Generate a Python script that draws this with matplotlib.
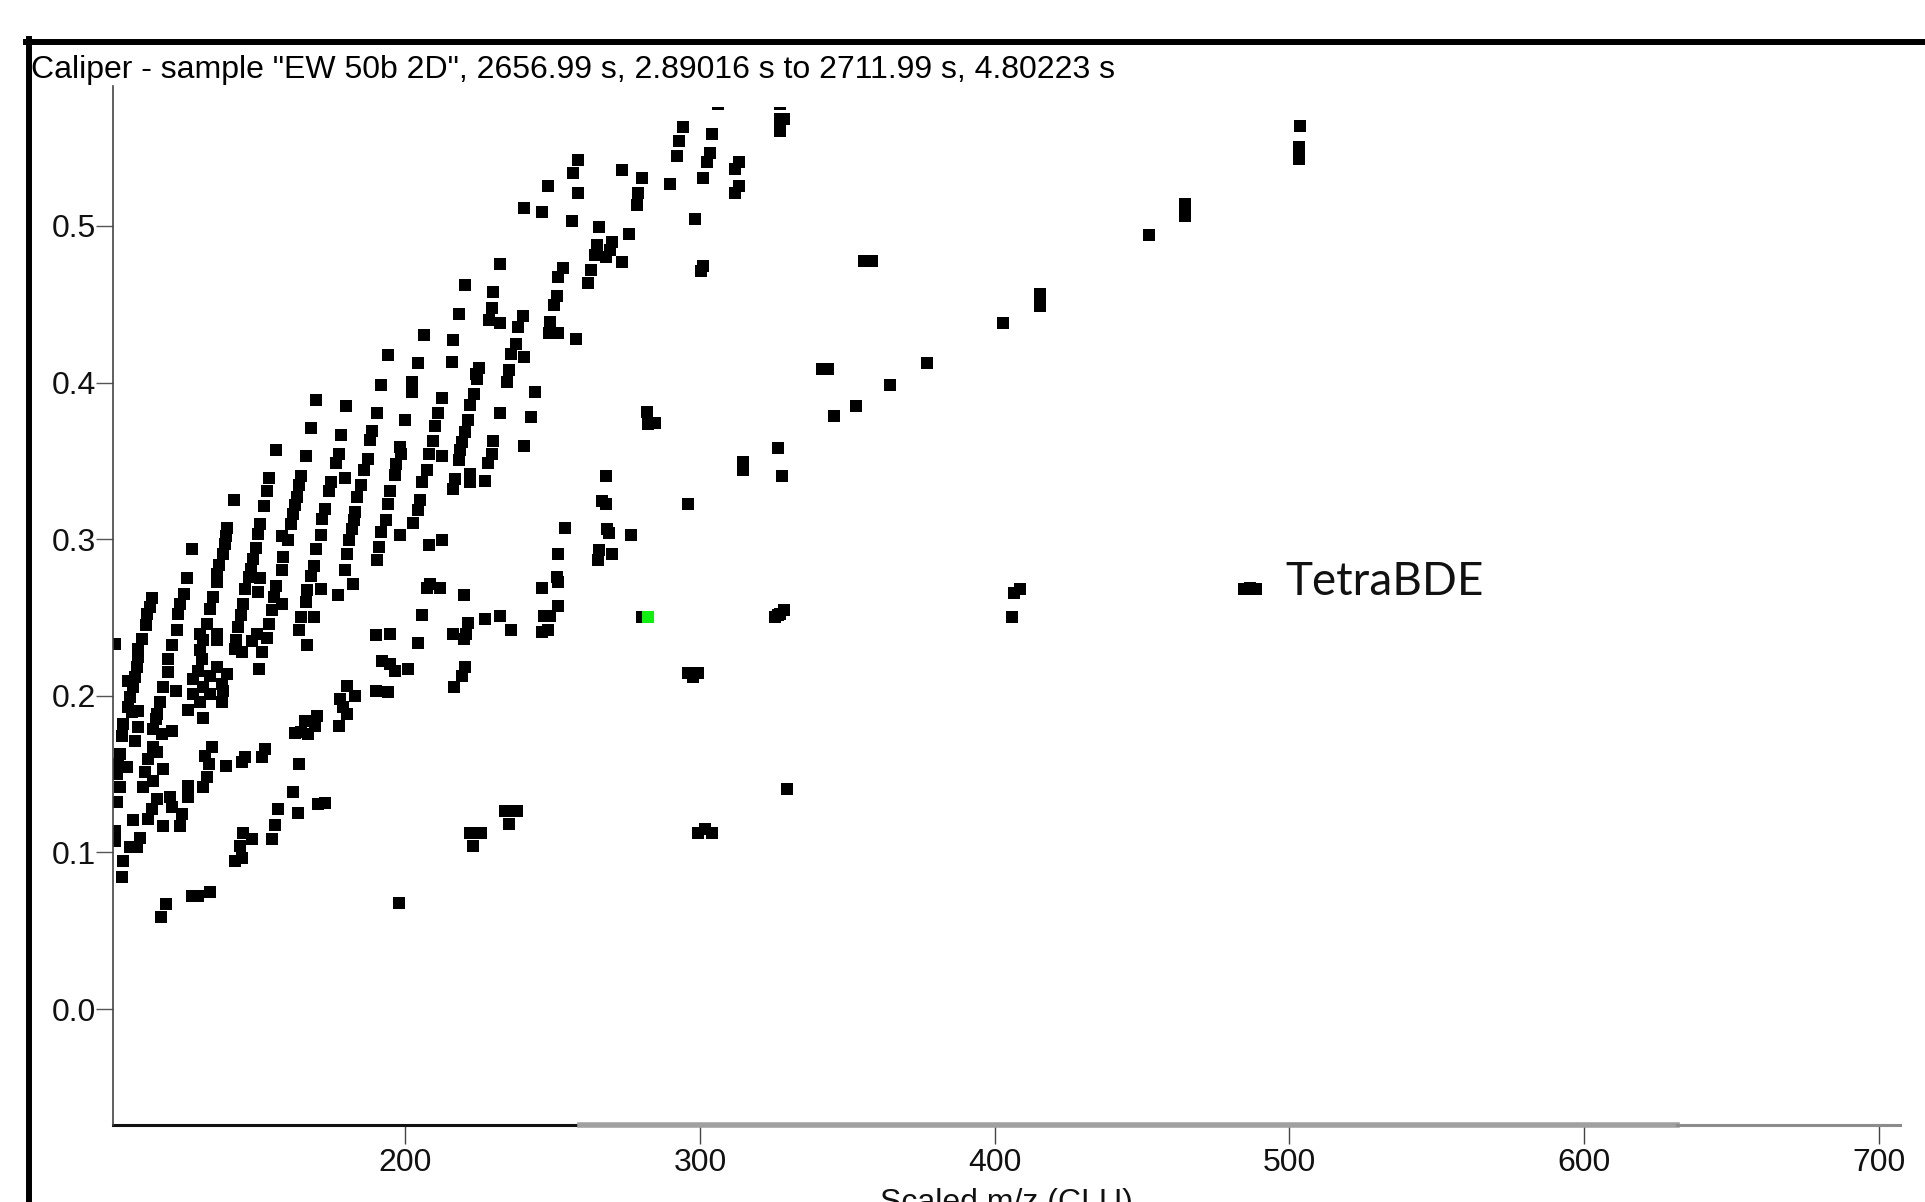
import matplotlib
matplotlib.use("Agg")
import matplotlib.pyplot as plt
from matplotlib import font_manager
from matplotlib.patches import Rectangle
from matplotlib.lines import Line2D
import matplotlib.transforms as mtransforms

# peak apex positions: scaled m/z (CLU) vs second dimension time (s)
upper_mz = [206.5, 194.1, 204.5,
            327.2, 328.5, 327.2, 327.2, 306.3, 294.4, 304.0, 293.0, 303.4, 302.3, 292.1,
            258.8, 257.1, 273.7, 280.5, 289.9, 300.9, 313.4, 311.9, 313.4, 311.9,
            248.6, 258.7, 278.9, 278.6, 240.3, 246.3, 256.7, 298.2, 265.9, 276.1,
            270.3, 265.0, 269.5, 264.4, 268.0, 273.7, 300.9, 300.3, 232.2, 253.7,
            252.0, 263.1, 261.9, 220.4, 229.9, 251.6, 250.5, 229.4, 218.4, 239.9,
            238.2, 228.6, 232.2, 249.1, 248.8, 252.0, 258.0, 216.4, 237.5, 235.9,
            240.3, 215.8, 225.1, 223.9, 235.2]
upper_t2 = [0.4304, 0.4176, 0.4123,
            0.5683, 0.5683, 0.5608, 0.5780, 0.5780, 0.5630, 0.5585, 0.5542, 0.5464, 0.5406, 0.5449,
            0.5421, 0.5336, 0.5355, 0.5308, 0.5266, 0.5308, 0.5410, 0.5361, 0.5257, 0.5208,
            0.5255, 0.5210, 0.5210, 0.5134, 0.5117, 0.5087, 0.5034, 0.5044, 0.4993, 0.4947,
            0.4896, 0.4878, 0.4847, 0.4815, 0.4800, 0.4770, 0.4747, 0.4713, 0.4757, 0.4730,
            0.4676, 0.4717, 0.4634, 0.4621, 0.4576, 0.4553, 0.4495, 0.4479, 0.4440, 0.4425,
            0.4357, 0.4400, 0.4383, 0.4389, 0.4315, 0.4315, 0.4276, 0.4272, 0.4247, 0.4181,
            0.4161, 0.4134, 0.4095, 0.4055, 0.4081]

mid_mz = [191.7, 202.2, 202.2, 169.8, 180.0, 212.4, 190.4, 211.3, 200.0, 168.1,
          178.2, 210.1, 188.9, 188.1, 209.6, 156.1, 166.4, 177.4, 176.5, 198.3,
          198.5, 196.9, 196.4, 208.2, 212.4, 187.3, 186.1, 207.3, 153.8, 164.6,
          164.0, 174.9, 174.2, 179.6, 185.0, 205.6, 153.0, 163.2, 162.8, 183.6,
          194.9, 142.0, 152.1, 161.9, 161.3, 172.8, 171.9, 194.1, 205.1, 204.5,
          183.0, 182.7, 181.9, 181.1, 193.4, 139.5, 139.2, 150.8, 150.1, 158.1, 160.4,
          171.4, 191.8, 198.1, 202.8, 212.4, 208.1, 138.9, 138.1, 136.9, 136.3,
          136.1, 127.8, 149.3, 148.5, 147.7, 147.2, 150.8, 145.7, 158.7, 158.1,
          169.8, 180.2, 191.3, 190.4, 169.1, 168.1, 179.6, 125.9, 150.2, 156.2,
          155.6, 158.2, 171.4, 166.6, 166.3, 182.4, 177.2, 208.5, 211.8, 207.3,
          114.2, 113.5, 112.6, 112.0, 125.0, 123.6, 123.1, 122.5, 134.7, 133.8,
          132.9, 130.4, 136.3, 131.3, 136.1, 144.9, 144.2, 143.4, 142.6, 142.3,
          155.0, 153.8, 149.7, 153.0, 148.0, 164.6, 169.2, 164.0, 205.8, 190.0,
          194.9, 204.5, 166.8, 110.9, 109.5, 120.8, 101.6, 130.4, 144.6, 151.4,
          224.3, 234.7, 223.5, 222.0, 244.1, 232.2, 242.6, 221.4, 220.3, 219.2,
          218.6, 218.4, 229.9, 240.3, 229.4, 228.0, 216.9, 222.0, 222.0, 227.1,
          216.4, 281.9, 282.5, 284.8, 326.4, 314.7, 314.7, 327.9, 268.0, 266.7,
          268.0, 295.8, 254.2, 268.4, 269.3, 276.6, 252.0, 265.8, 265.5, 270.3,
          251.4, 252.0, 246.3, 220.0, 252.0, 232.2, 227.1, 235.9, 247.2, 249.1,
          246.3, 248.6, 221.4, 220.7, 216.4, 220.0, 280.2, 325.5, 327.0, 328.5, 326.5]
mid_t2 = [0.3982, 0.4003, 0.3939, 0.3886, 0.3848, 0.3903, 0.3807, 0.3807, 0.3763, 0.3709,
          0.3663, 0.3722, 0.3690, 0.3631, 0.3626, 0.3567, 0.3529, 0.3541, 0.3486, 0.3588,
          0.3546, 0.3478, 0.3407, 0.3541, 0.3529, 0.3514, 0.3444, 0.3444, 0.3392, 0.3403,
          0.3348, 0.3363, 0.3307, 0.3392, 0.3348, 0.3363, 0.3305, 0.3269, 0.3216, 0.3269,
          0.3307, 0.3248, 0.3214, 0.3163, 0.3099, 0.3195, 0.3126, 0.3224, 0.3248, 0.3184,
          0.3173, 0.3120, 0.3067, 0.2992, 0.3124, 0.3071, 0.3020, 0.3099, 0.3035, 0.3018, 0.2992,
          0.3029, 0.3046, 0.3029, 0.3103, 0.2992, 0.2961, 0.2971, 0.2907, 0.2833, 0.2780,
          0.2726, 0.2935, 0.2946, 0.2875, 0.2807, 0.2758, 0.2754, 0.2684, 0.2886, 0.2805,
          0.2935, 0.2907, 0.2950, 0.2869, 0.2826, 0.2765, 0.2805, 0.2754, 0.2663, 0.2699,
          0.2631, 0.2588, 0.2680, 0.2673, 0.2599, 0.2716, 0.2641, 0.2716, 0.2690, 0.2690,
          0.2626, 0.2567, 0.2524, 0.2450, 0.2652, 0.2588, 0.2524, 0.2418, 0.2631, 0.2556,
          0.2461, 0.2397, 0.2397, 0.2354, 0.2354, 0.2588, 0.2514, 0.2439, 0.2354, 0.2301,
          0.2546, 0.2461, 0.2397, 0.2371, 0.2350, 0.2503, 0.2503, 0.2418, 0.2518, 0.2390,
          0.2397, 0.2339, 0.2322, 0.2365, 0.2301, 0.2322, 0.2333, 0.2290, 0.2280, 0.2280,
          0.4024, 0.4003, 0.3929, 0.3858, 0.3939, 0.3807, 0.3780, 0.3763, 0.3684, 0.3620,
          0.3567, 0.3503, 0.3624, 0.3592, 0.3546, 0.3486, 0.3386, 0.3418, 0.3365, 0.3371,
          0.3322, 0.3812, 0.3737, 0.3741, 0.3582, 0.3492, 0.3439, 0.3403, 0.3403, 0.3241,
          0.3222, 0.3224, 0.3071, 0.3067, 0.3041, 0.3029, 0.2903, 0.2929, 0.2869, 0.2903,
          0.2758, 0.2726, 0.2690, 0.2641, 0.2571, 0.2507, 0.2490, 0.2418, 0.2507, 0.2507,
          0.2407, 0.2418, 0.2465, 0.2397, 0.2397, 0.2365, 0.2503, 0.2505, 0.2525, 0.2545, 0.2515]

low_mz = [109.5, 108.9, 108.4, 106.1, 107.8, 106.7, 106.1, 109.5, 107.2, 119.7,
          119.4, 118.0, 122.2, 116.9, 115.7, 115.4, 131.0, 129.9, 128.2, 136.1,
          139.5, 133.8, 137.8, 131.6, 128.2, 133.8, 138.3, 130.4, 137.8, 126.5,
          131.6, 150.4, 192.1, 194.9, 196.6, 200.9, 180.2, 183.0, 177.9, 179.0,
          180.4, 177.4, 190.0, 194.1, 170.0, 166.0, 164.6, 167.2, 169.4, 162.7,
          104.4, 103.9, 109.5, 108.4, 114.6, 120.8, 117.4, 114.6, 115.7, 103.3,
          102.7, 105.6, 102.2, 103.3, 102.2, 101.6, 101.6, 112.9, 111.8, 114.3,
          111.2, 118.0, 134.4, 132.1, 133.3, 132.7, 131.6, 139.3, 144.6, 145.7,
          151.4, 152.3, 164.0, 126.2, 126.5, 115.7, 120.3, 120.8, 124.2, 114.0,
          112.9, 107.6, 118.0, 123.6, 161.8, 157.0, 163.8, 170.6, 172.8, 155.9,
          154.7, 145.1, 147.9, 144.0, 142.3, 144.6, 110.1, 106.7, 108.9, 104.4,
          103.9, 133.8, 129.6, 127.6, 118.9, 117.1, 197.9,
          220.3, 219.2, 216.6, 296.1, 299.5, 297.8, 233.9, 237.8, 235.2, 222.0,
          225.6, 222.9, 299.5, 304.0, 301.7]
low_t2 = [0.2246, 0.2182, 0.2118, 0.2097, 0.2054, 0.1990, 0.1927, 0.1905, 0.1895, 0.2235,
          0.2150, 0.2054, 0.2033, 0.1958, 0.1884, 0.1852, 0.2235, 0.2161, 0.2107, 0.2182,
          0.2139, 0.2129, 0.2076, 0.2054, 0.2012, 0.2012, 0.2033, 0.1958, 0.1958, 0.1910,
          0.1858, 0.2171, 0.2220, 0.2203, 0.2161, 0.2171, 0.2065, 0.2001, 0.1980, 0.1927,
          0.1884, 0.1805, 0.2033, 0.2022, 0.1873, 0.1841, 0.1767, 0.1756, 0.1810, 0.1761,
          0.1820, 0.1746, 0.1799, 0.1714, 0.1788, 0.1778, 0.1756, 0.1671, 0.1639, 0.1629,
          0.1565, 0.1544, 0.1501, 0.1416, 0.1320, 0.1139, 0.1076, 0.1597, 0.1512, 0.1458,
          0.1416, 0.1533, 0.1676, 0.1618, 0.1565, 0.1480, 0.1416, 0.1554, 0.1576, 0.1607,
          0.1607, 0.1661, 0.1565, 0.1427, 0.1352, 0.1342, 0.1352, 0.1288, 0.1246, 0.1278,
          0.1214, 0.1210, 0.1167, 0.1167, 0.1388, 0.1278, 0.1250, 0.1310, 0.1314, 0.1178,
          0.1086, 0.1122, 0.1086, 0.1044, 0.0948, 0.0965, 0.1090, 0.1033, 0.1033, 0.0944,
          0.0846, 0.0750, 0.0724, 0.0724, 0.0671, 0.0586, 0.0678,
          0.2186, 0.2129, 0.2054, 0.2144, 0.2144, 0.2118, 0.1263, 0.1263, 0.1182, 0.1122,
          0.1122, 0.1039, 0.1122, 0.1122, 0.1150]

far_mz = [503.6, 503.1, 503.3, 464.6, 464.6, 452.2, 355.5, 358.5, 415.3, 415.3,
          402.7, 377.0, 364.6, 353.0, 345.6, 341.5, 343.5, 405.8, 406.5, 408.5, 329.6]
far_t2 = [0.5638, 0.5504, 0.5430, 0.5137, 0.5064, 0.4942, 0.4779, 0.4779, 0.4563, 0.4490,
          0.4380, 0.4124, 0.3982, 0.3848, 0.3789, 0.4087, 0.4087, 0.2502, 0.2655, 0.2685, 0.1403]

tetra_mz = [484.5, 486.5, 488.5]
tetra_t2 = [0.2680, 0.2688, 0.2682]

selected_mz = [282.5]
selected_t2 = [0.2503]

x_ticks = [200, 300, 400, 500, 600, 700]
y_ticks = [0.0, 0.1, 0.2, 0.3, 0.4, 0.5]

title = 'Caliper - sample "EW 50b 2D", 2656.99 s, 2.89016 s to 2711.99 s, 4.80223 s'

names = {f.name for f in font_manager.fontManager.ttflist}
if 'Liberation Sans Narrow' in names:
    tick_font, tick_size = 'Liberation Sans Narrow', 26
else:
    tick_font, tick_size = 'Liberation Sans', 23

W, H = 1925, 1202
fig = plt.figure(figsize=(W / 100, H / 100), dpi=100)
ax = fig.add_axes([113 / W, 1 - 1124.6 / H, (1900 - 113) / W, (1124.6 - 86) / H])
ax.set_xlim(100.9, 707.1)
ax.set_ylim(-0.0737, 0.5893)

# markers are clipped a little below the top of the y axis
clip = Rectangle((100.9, -0.0737), 606.2, 0.5762 + 0.0737, transform=ax.transData)
for xs, ys in [(upper_mz, upper_t2), (mid_mz, mid_t2), (low_mz, low_t2),
               (far_mz, far_t2), (tetra_mz, tetra_t2)]:
    sc = ax.scatter(xs, ys, marker='s', s=74, c='black', linewidths=0)
    sc.set_clip_path(clip)
ax.scatter(selected_mz, selected_t2, marker='s', s=74, c='#11ee11', linewidths=0, zorder=3)

ax.text(498.5, 0.2727, 'TetraBDE', fontsize=33, family='Lato', va='center', ha='left',
        color='#111111')

for side in ['top', 'right', 'bottom']:
    ax.spines[side].set_visible(False)
ax.spines['left'].set_color('#444444')
ax.spines['left'].set_linewidth(1.2)

# x axis line: dark on the left, grey band across the middle, grey to the end
bt = mtransforms.blended_transform_factory(ax.transData, ax.transAxes)
ax.add_line(Line2D([100.9, 259.2], [0, 0], transform=bt, color='#111111', lw=2.2, clip_on=False))
ax.add_line(Line2D([259.2, 631.3], [0, 0], transform=bt, color='#a0a0a0', lw=4.0, clip_on=False))
ax.add_line(Line2D([631.3, 707.1], [0, 0], transform=bt, color='#8c8c8c', lw=2.2, clip_on=False))

ax.set_xticks(x_ticks)
ax.set_yticks(y_ticks)
ax.set_yticklabels([f'{v:.1f}' for v in y_ticks])
ax.tick_params(axis='x', length=14, width=1.0, color='#444444', pad=3)
ax.tick_params(axis='y', length=12, width=1.0, color='#555555', pad=0)
for lab in ax.get_xticklabels() + ax.get_yticklabels():
    lab.set_fontfamily(tick_font)
    lab.set_fontsize(tick_size)
    lab.set_color('#111111')

# axis caption runs off the bottom edge, as in the source window
fig.text(1006 / W, 1 - 1188 / H, 'Scaled m/z (CLU)', ha='center', va='top',
         family=tick_font, fontsize=tick_size, color='#111111')

# window frame and caption
fig.add_artist(Line2D([28.5 / W, 28.5 / W], [0, 1 - 38.5 / H], transform=fig.transFigure,
                      color='black', lw=4.3))
fig.add_artist(Line2D([25.5 / W, 1], [1 - 41.5 / H, 1 - 41.5 / H], transform=fig.transFigure,
                      color='black', lw=4.3))
fig.text(31 / W, 1 - 78 / H, title, ha='left', va='baseline', family='Liberation Sans',
         fontsize=23, color='black')

fig.savefig('out.png', dpi=100)
